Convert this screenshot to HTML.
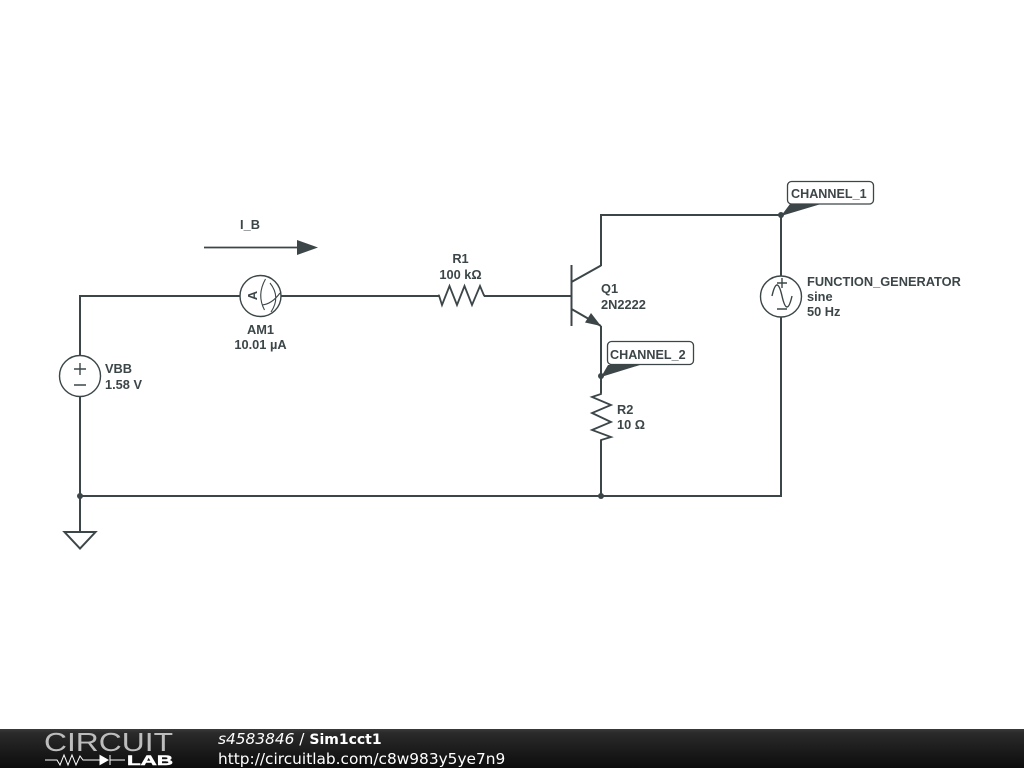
<!DOCTYPE html>
<html><head><meta charset="utf-8"><style>
html,body{margin:0;padding:0;background:#fff;width:1024px;height:768px;overflow:hidden}
svg{display:block;position:absolute;left:0;top:0;filter:blur(.3px)}
text{font-family:"Liberation Sans",sans-serif;font-size:12.8px;fill:#3c4648;font-weight:bold}
.m{text-anchor:middle}
.w{fill:none;stroke:#3c4648;stroke-width:2}
.t{fill:none;stroke:#3c4648;stroke-width:1.4}
.f text{font-family:"DejaVu Sans",sans-serif;font-size:15.37px;fill:#fff;font-weight:normal}
</style></head><body>
<svg width="1024" height="768" viewBox="0 0 1024 768" xmlns="http://www.w3.org/2000/svg">
<defs><linearGradient id="g" x1="0" y1="0" x2="0" y2="1"><stop offset="0" stop-color="#3a3a3a"/><stop offset=".1" stop-color="#2a2a2a"/><stop offset="1" stop-color="#0c0c0c"/></linearGradient></defs>
<!-- wires -->
<path class="w" d="M80 355V296H240M281 296H439M484 296H571M601 266V215H781V276M781 317V496H80M80 396V532M601 326V393M601 440V496"/>
<!-- resistors -->
<path class="t" style="stroke-width:1.8" d="M438 295.500H439L442 305 449.500 286 457 305 464.500 286 472 305 480 286 484 295.500H485"/>
<path class="t" style="stroke-width:1.8" d="M601 393V394L592 397 611 405 592 413 611 422 592 430 611 437 601 440V441"/>
<!-- transistor -->
<path class="w" d="M571.500 265V326M571.500 282L601 265.500M571.500 309L601 326"/>
<path fill="#3c4648" d="M601 326L585 322.500 591 313Z"/>
<!-- sources -->
<circle class="t" cx="80" cy="376" r="20.500"/>
<path class="t" d="M74 369H86M80 363V375M74 385H86"/>
<circle class="t" cx="781" cy="296.500" r="20.500"/>
<path class="t" d="M777 283H787M782 278V288M777 309H787"/>
<path class="t" d="M772 296Q777 274 782 296T792 296"/>
<!-- ammeter -->
<circle class="t" cx="260.500" cy="296" r="20.500"/>
<path class="t" style="stroke-width:1.100" d="M265.500 279Q256.500 295 264.500 310M270 283Q281 297 271 312M262 305Q272 304 280 293"/>
<text class="m" transform="translate(257,295.500) rotate(-90)" style="font-size:13px">A</text>
<!-- ground -->
<path class="w" d="M64.500 532H95.500L80 548.500Z"/>
<!-- arrow -->
<path class="w" style="stroke-width:1.800" d="M204 247.500H298"/>
<path fill="#3c4648" d="M297 240L318 247.500 297 255Z"/>
<!-- junctions -->
<circle cx="80" cy="496" r="3" fill="#3c4648"/>
<circle cx="601" cy="496" r="3" fill="#3c4648"/>
<circle cx="781" cy="215" r="3" fill="#3c4648"/>
<circle cx="601" cy="376" r="3" fill="#3c4648"/>
<!-- flags -->
<path fill="#3c4648" d="M781 216L790 204H821Z"/>
<rect x="787.500" y="181.500" width="86" height="22.500" rx="4" fill="#fff" stroke="#3c4648" stroke-width="1.300"/>
<text x="791" y="198" style="font-size:12.6px">CHANNEL_1</text>
<path fill="#3c4648" d="M601 377L608 365H640Z"/>
<rect x="607.500" y="341.500" width="86" height="23" rx="4" fill="#fff" stroke="#3c4648" stroke-width="1.300"/>
<text x="610" y="359" style="font-size:12.6px">CHANNEL_2</text>
<!-- labels -->
<text class="m" x="250" y="229">I_B</text>
<text class="m" x="460.500" y="263">R1</text>
<text class="m" x="460.500" y="279">100 kΩ</text>
<text class="m" x="260.500" y="334">AM1</text>
<text class="m" x="260.500" y="349">10.01 µA</text>
<text x="105" y="373">VBB</text>
<text x="105" y="389">1.58 V</text>
<text x="601" y="293">Q1</text>
<text x="601" y="309">2N2222</text>
<text x="617" y="414">R2</text>
<text x="617" y="429">10 Ω</text>
<text x="807" y="286">FUNCTION_GENERATOR</text>
<text x="807" y="301">sine</text>
<text x="807" y="316">50 Hz</text>
<!-- footer -->
<g class="f">
<rect x="0" y="729" width="1024" height="39" fill="url(#g)"/>
<text x="218" y="744" style="font-style:italic">s4583846 <tspan style="font-style:normal">/</tspan> <tspan style="font-weight:bold;font-style:normal;font-size:14px">Sim1cct1</tspan></text>
<text x="218" y="764">http://circuitlab.com/c8w983y5ye7n9</text>
<text x="44" y="751" textLength="129" lengthAdjust="spacingAndGlyphs" style="font-family:'Liberation Sans',sans-serif;font-size:26px;fill:#bdbdbd">CIRCUIT</text>
<text x="127" y="765" textLength="46" lengthAdjust="spacingAndGlyphs" style="font-family:'Liberation Sans',sans-serif;font-size:13.500px;font-weight:bold;stroke:#fff;stroke-width:.5">LAB</text>
<path d="M45 760H57L60 765 64 755 68 765 72 755 76 765 80 756 83 760H100M110 760H125" fill="none" stroke="#fff" stroke-width="1"/>
<path d="M100 755.500V764.500L108 760ZM110 755V765" fill="#fff" stroke="#fff" stroke-width="1"/>
</g>
</svg>
</body></html>
